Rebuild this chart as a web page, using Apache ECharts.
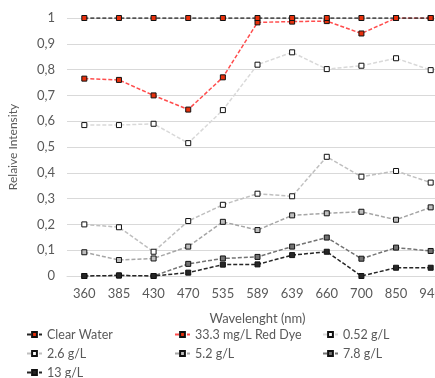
<!DOCTYPE html>
<html>
<head>
<meta charset="utf-8">
<script src="https://cdn.jsdelivr.net/npm/echarts@6/dist/echarts.min.js"></script>
<style>
  html, body { margin: 0; padding: 0; background: #fff; }
  #chart { width: 435px; height: 378px; }
</style>
</head>
<body>
<div id="chart"></div>
<script>
var wavelengths = ['360', '385', '430', '470', '535', '589', '639', '660', '700', '850', '940'];

var clearWater = [1, 1, 1, 1, 1, 1, 1, 1, 1, 1, 1];
var redDye     = [0.765, 0.76, 0.70, 0.645, 0.77, 0.983, 0.986, 0.988, 0.94, 1, 1];
var g052       = [0.585, 0.585, 0.59, 0.515, 0.643, 0.819, 0.867, 0.802, 0.815, 0.844, 0.798];
var g26        = [0.20, 0.189, 0.094, 0.213, 0.276, 0.319, 0.309, 0.462, 0.385, 0.407, 0.362];
var g52        = [0.092, 0.062, 0.068, 0.114, 0.21, 0.178, 0.235, 0.243, 0.249, 0.218, 0.266];
var g78        = [0, 0.002, 0, 0.047, 0.068, 0.074, 0.114, 0.149, 0.067, 0.11, 0.097];
var g13        = [0, 0.002, 0, 0.013, 0.044, 0.045, 0.081, 0.094, 0, 0.032, 0.032];

var font = 'Lato, "Liberation Sans", sans-serif';
var textColor = '#595959';

function lineSeries(name, data, lineColor, markerColor, z) {
    return {
        name: name,
        type: 'line',
        data: data,
        z: z,
        symbol: 'rect',
        symbolSize: 5,
        showAllSymbol: true,
        lineStyle: { color: lineColor, width: 1.5, type: [4, 2] },
        itemStyle: { color: markerColor, borderColor: '#111', borderWidth: 1 },
        emphasis: { disabled: true }
    };
}

// one legend per item so the three columns line up like the original
function legendItem(name, left, top) {
    return {
        left: left,
        top: top,
        padding: 0,
        itemGap: 0,
        itemWidth: 15,
        itemHeight: 6,
        data: [name],
        textStyle: { color: textColor, fontSize: 12.5, fontFamily: font }
    };
}

var option = {
    animation: false,
    backgroundColor: '#fff',
    grid: { left: 67, top: 18, width: 381, height: 258, outerBoundsMode: 'none' },
    legend: [
        legendItem('Clear Water', 26, 328),
        legendItem('33.3 mg/L Red Dye', 174, 328),
        legendItem('0.52 g/L', 322, 328),
        legendItem('2.6 g/L', 26, 347),
        legendItem('5.2 g/L', 174, 347),
        legendItem('7.8 g/L', 322, 347),
        legendItem('13 g/L', 26, 366)
    ],
    xAxis: {
        type: 'category',
        data: wavelengths,
        boundaryGap: true,
        name: 'Wavelenght (nm)',
        nameLocation: 'middle',
        nameGap: 36,
        nameTextStyle: { color: textColor, fontSize: 13, fontFamily: font },
        axisLine: { lineStyle: { color: '#d9d9d9' } },
        axisTick: { show: false },
        axisLabel: { color: textColor, fontSize: 13, fontFamily: font, margin: 11 }
    },
    yAxis: {
        type: 'value',
        min: 0,
        max: 1,
        interval: 0.1,
        name: 'Relaive Intensity',
        nameLocation: 'middle',
        nameGap: 48,
        nameTextStyle: { color: textColor, fontSize: 12, fontFamily: font },
        splitLine: { lineStyle: { color: '#d9d9d9' } },
        axisLabel: {
            color: textColor, fontSize: 13, fontFamily: font, margin: 12,
            formatter: function (v) { return String(Math.round(v * 10) / 10).replace('.', ','); }
        }
    },
    series: [
        lineSeries('Clear Water', clearWater, '#262626', '#e8300c', 10),
        lineSeries('33.3 mg/L Red Dye', redDye, '#ff4d4d', '#e8300c', 9),
        lineSeries('0.52 g/L', g052, '#d9d9d9', '#ffffff', 3),
        lineSeries('2.6 g/L', g26, '#bfbfbf', '#ffffff', 4),
        lineSeries('5.2 g/L', g52, '#a6a6a6', '#bfbfbf', 5),
        lineSeries('7.8 g/L', g78, '#737373', '#737373', 6),
        lineSeries('13 g/L', g13, '#262626', '#262626', 7)
    ]
};

var myChart = echarts.init(document.getElementById('chart'));
myChart.setOption(option);
</script>
</body>
</html>
